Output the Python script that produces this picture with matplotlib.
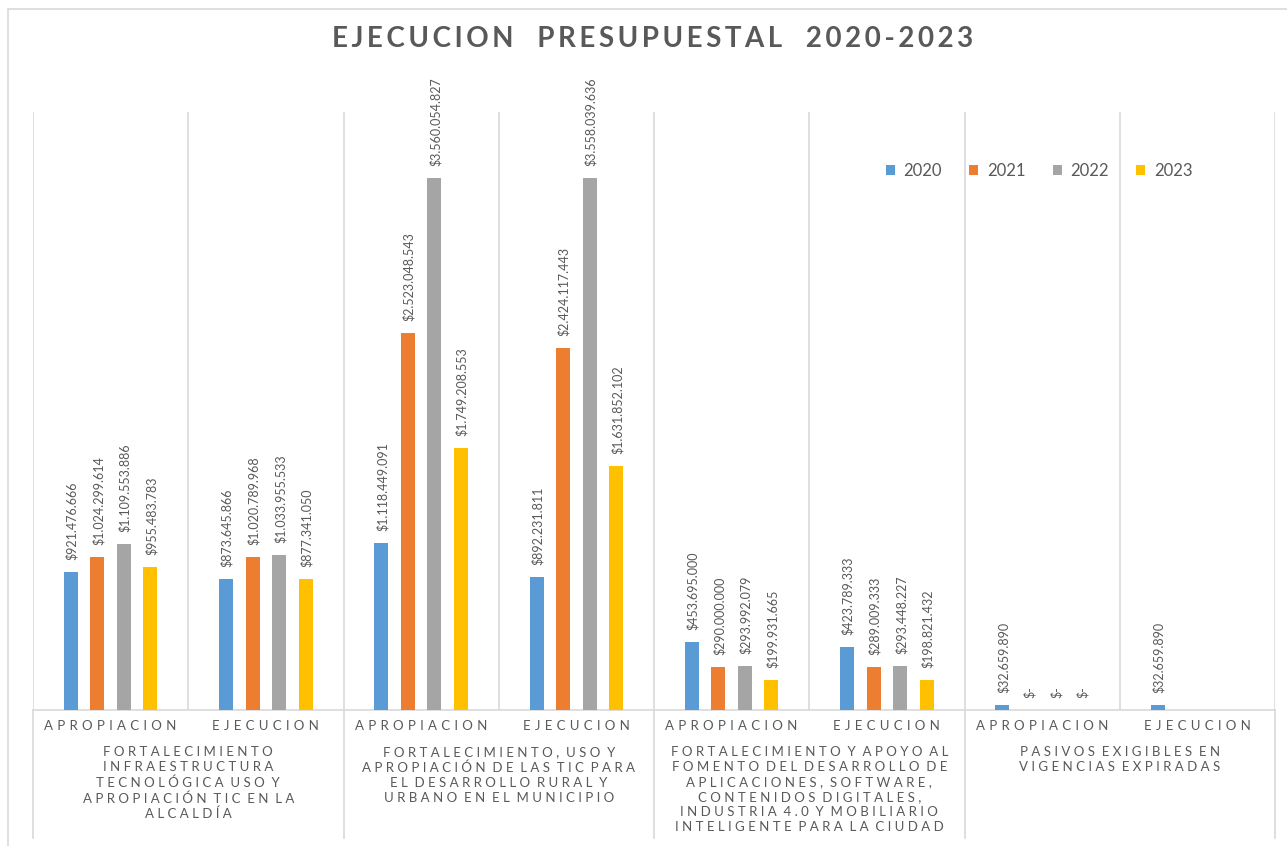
import numpy as np
import matplotlib
matplotlib.use("Agg")
import matplotlib.pyplot as plt
from matplotlib.patches import Rectangle

plt.rcParams["font.family"] = ["Lato", "DejaVu Sans"]

W, H = 1287, 846
GRAY_TXT = "#595959"
GRID = "#D9D9D9"

sub_labels = ["APROPIACION", "EJECUCION"] * 4
groups = [
    "FORTALECIMIENTO\nINFRAESTRUCTURA\nTECNOLÓGICA USO Y\nAPROPIACIÓN TIC EN LA\nALCALDÍA",
    "FORTALECIMIENTO, USO Y\nAPROPIACIÓN DE LAS TIC PARA\nEL DESARROLLO RURAL Y\nURBANO EN EL MUNICIPIO",
    "FORTALECIMIENTO Y APOYO AL\nFOMENTO DEL DESARROLLO DE\nAPLICACIONES, SOFTWARE,\nCONTENIDOS DIGITALES,\nINDUSTRIA 4.0 Y MOBILIARIO\nINTELIGENTE PARA LA CIUDAD",
    "PASIVOS EXIGIBLES EN\nVIGENCIAS EXPIRADAS",
]
years = ["2020", "2021", "2022", "2023"]
v2020 = [921476666, 873645866, 1118449091, 892231811, 453695000, 423789333, 32659890, 32659890]
v2021 = [1024299614, 1020789968, 2523048543, 2424117443, 290000000, 289009333, 0, np.nan]
v2022 = [1109553886, 1033955533, 3560054827, 3558039636, 293992079, 293448227, 0, np.nan]
v2023 = [955483783, 877341050, 1749208553, 1631852102, 199931665, 198821432, 0, np.nan]
colors = ["#5B9BD5", "#ED7D31", "#A5A5A5", "#FFC000"]
title = "EJECUCION PRESUPUESTAL 2020-2023"


def money(v):
    if v == 0:
        return "$-"
    return "$" + f"{v:,.0f}".replace(",", ".")


def spaced(s, sep=" ", wsep="  "):
    # wide tracking: a gap between letters, a wider one between words
    return "\n".join(wsep.join(sep.join(w) for w in line.split(" ")) for line in s.split("\n"))


fig = plt.figure(figsize=(W / 100, H / 100), dpi=100)
fig.patches.append(Rectangle((8 / W, -0.05), 1.2, (H - 9) / H + 0.05, transform=fig.transFigure,
                             fill=False, edgecolor=GRID, lw=1.2))
ax = fig.add_axes([33 / W, (H - 710) / H, (1275 - 33) / W, (710 - 112) / H])

x = np.arange(len(sub_labels))
offs = (np.arange(4) - 1.5) * 0.171
bw = 0.09
for i, (yr, vals) in enumerate(zip(years, [v2020, v2021, v2022, v2023])):
    ax.bar(x + offs[i], vals, bw, color=colors[i], label=yr, zorder=3)
    for xi, v in zip(x, vals):
        if np.isnan(v):
            continue
        ax.annotate(money(v), (xi + offs[i], v), xytext=(1, 12),
                    textcoords="offset pixels", rotation=90, ha="center", va="bottom",
                    fontsize=9, color=GRAY_TXT, family=["Liberation Sans Narrow", "Lato"])

ax.set_xlim(-0.5, 7.5)
ax.set_ylim(0, 4e9)
ax.set_xticks([])
ax.set_yticks([])
for s in ["left", "right", "top"]:
    ax.spines[s].set_visible(False)
ax.spines["bottom"].set_color(GRID)
ax.spines["bottom"].set_linewidth(1.2)
for b in np.arange(-0.5, 8):
    ax.axvline(b, color=GRID, lw=1.2, zorder=1)

tr = ax.get_xaxis_transform()
for b in [-0.5, 1.5, 3.5, 5.5, 7.5]:
    ax.plot([b, b], [0, -0.214], transform=tr, color=GRID, lw=1.2, clip_on=False)
for xi, lab in zip(x, sub_labels):
    ax.text(xi, -0.027, spaced(lab, " \u200a"), transform=tr, ha="center", va="center",
            fontsize=9.5, color=GRAY_TXT)
for g, lab in enumerate(groups):
    ax.text(2 * g + 0.5, -0.061, spaced(lab), transform=tr, ha="center", va="top",
            fontsize=9.5, color=GRAY_TXT, linespacing=1.3, multialignment="center")

fig.text(653 / W, 1 - 39 / H, spaced(title, "\u2009", "\u2009   "), ha="center", va="center",
         fontsize=20, fontweight="bold", color=GRAY_TXT)

ax.legend(loc="center", bbox_to_anchor=(1039 / W, 1 - 171 / H), bbox_transform=fig.transFigure,
          ncol=4, frameon=False, fontsize=12, handlelength=0.55, handleheight=0.55,
          handletextpad=0.5, columnspacing=1.65, labelcolor=GRAY_TXT)

fig.savefig("out.png", dpi=100)
